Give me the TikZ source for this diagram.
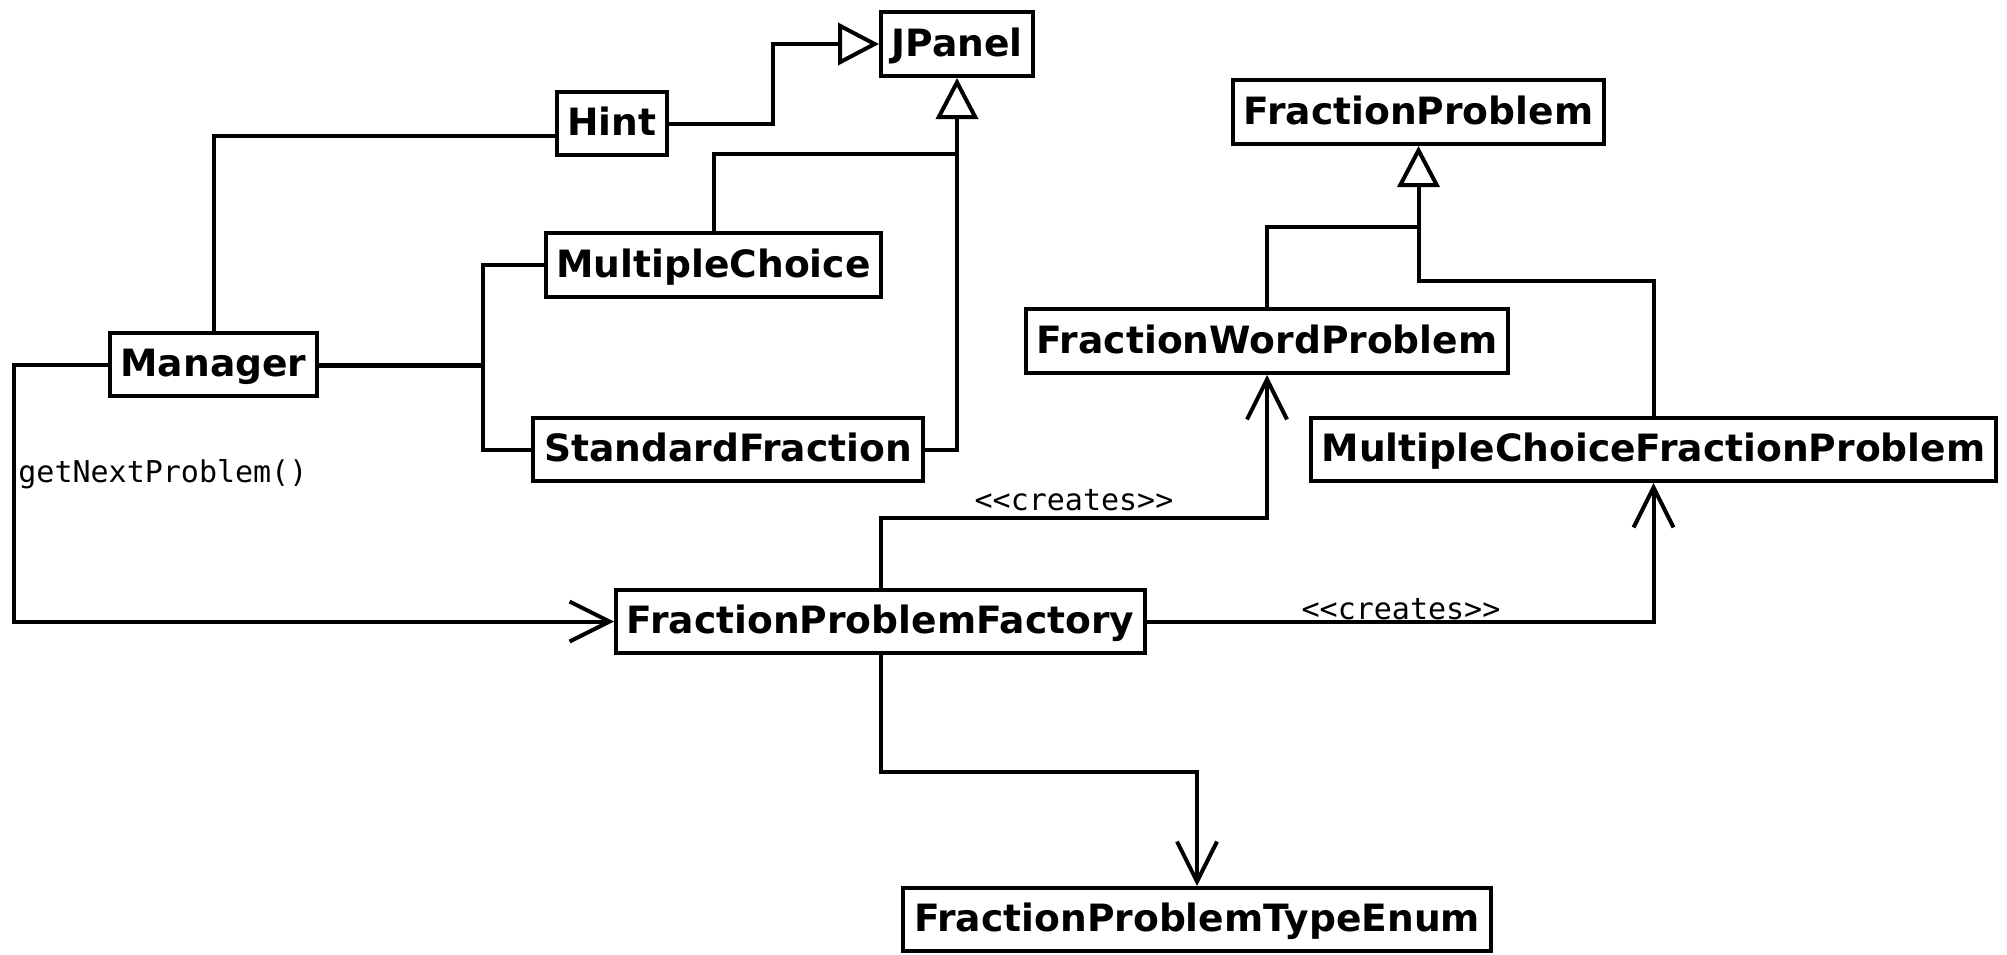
\documentclass[tikz,border=0pt]{standalone}
\usepackage{fontspec}
\setmainfont{DejaVu Sans}
\newfontfamily\monofont{DejaVu Sans Mono}
\usetikzlibrary{arrows.meta}

\begin{document}
\begin{tikzpicture}[x=0.5pt,y=-0.5pt,
  cls/.style={draw, line width=2pt, inner sep=0pt, align=center,
    text height=13.7pt, text depth=1.5pt,
    font=\fontsize{18.8pt}{21pt}\selectfont\bfseries},
  conn/.style={line width=2pt, line join=miter},
  inherit/.style={conn, -{Triangle[open,length=20.5pt,width=21pt]}},
  uses/.style={conn, -{Straight Barb[length=20pt,width=20pt]}},
  lbl/.style={font=\monofont\fontsize{15pt}{17pt}\selectfont, inner sep=0pt}
]
\useasboundingbox (0,0) rectangle (2007,954);

% classes
\node[cls, minimum width=76pt,    minimum height=32pt]   (JPanel)  at (957,44)      {JPanel};
\node[cls, minimum width=55pt,    minimum height=31.5pt] (Hint)    at (612,123.5)   {Hint};
\node[cls, minimum width=167.5pt, minimum height=32pt]   (MC)      at (713.5,265)   {MultipleChoice};
\node[cls, minimum width=103.5pt, minimum height=31.5pt] (Manager) at (213.5,364.5) {Manager};
\node[cls, minimum width=195pt,   minimum height=31.5pt] (SF)      at (728,449.5)   {StandardFraction};
\node[cls, minimum width=185.5pt, minimum height=32pt]   (FP)      at (1418.5,112)  {FractionProblem};
\node[cls, minimum width=241pt,   minimum height=32pt]   (FWP)     at (1267,341)    {FractionWordProblem};
\node[cls, minimum width=342.5pt, minimum height=31.5pt] (MCFP)    at (1653.5,449.5){MultipleChoiceFractionProblem};
\node[cls, minimum width=264.5pt, minimum height=31.5pt] (Factory) at (880.5,621.5) {FractionProblemFactory};
\node[cls, minimum width=294pt,   minimum height=31.5pt] (Enum)    at (1197,919.5)  {FractionProblemTypeEnum};

% generalisations towards JPanel
\coordinate (jp) at (JPanel.south |- 0,154);
\draw[inherit] (Hint.east) -- ++(104,0) |- (JPanel.west);
\draw[conn] (MC.north) |- (jp);
\draw[conn] (SF.east) -| (jp);
\draw[inherit] (jp) -- (JPanel.south);

% generalisations towards FractionProblem
\coordinate (fp) at (FP.south |- 0,227);
\draw[conn] (FWP.north) |- (fp);
\draw[conn] (MCFP.north) -- ++(0,-135) -| (fp);
\draw[inherit] (fp) -- (FP.south);

% Manager associations
\coordinate (mb) at (483,364.5);
\draw[conn] (Manager.north) |- ([yshift=-6.25pt]Hint.west);
\draw[conn] (Manager.east) -- (mb) |- (MC.west);
\draw[conn] ([yshift=-0.8pt]Manager.east) -- ([yshift=-0.8pt]mb) |- (SF.west);
\draw[uses] (Manager.west) -- ++(-94,0) |- (Factory.west);
\node[lbl, anchor=west] (gnp) at (18,474) {getNextProblem()};

% factory dependencies
\draw[uses] (Factory.north) -- ++(0,-70) -| (FWP.south);
\node[lbl, anchor=base] (cr1) at (1074,510) {<<creates>>};
\draw[uses] (Factory.east) -| (MCFP.south);
\node[lbl, anchor=base] (cr2) at (1401,619) {<<creates>>};
\draw[uses] (Factory.south) -- ++(0,116.5) -| (Enum.north);
\end{tikzpicture}
\end{document}
